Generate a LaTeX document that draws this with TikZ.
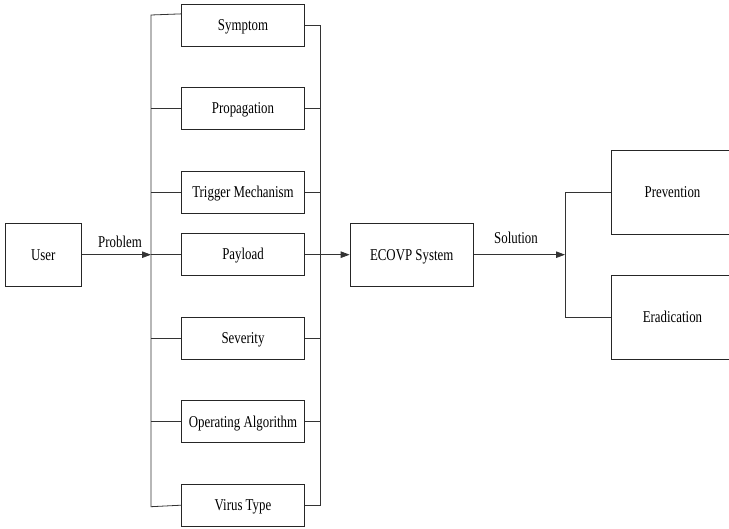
\documentclass[tikz,border=0pt]{standalone}
\usepackage{fontspec}
\setmainfont{Liberation Serif}[FakeStretch=0.78]
\usetikzlibrary{arrows.meta,calc}
\begin{document}
\begin{tikzpicture}[x=1pt,y=-1pt,
  line width=0.8pt, draw=black!85,
  box/.style={draw=black!85, line width=0.8pt, inner sep=0pt, minimum width=122.6pt, minimum height=42pt,
    text height=11pt, text depth=0pt, font=\fontsize{16.5}{18}\selectfont},
  bigbox/.style={box, minimum width=123.3pt, minimum height=62.7pt},
  rbox/.style={box, minimum width=123pt, minimum height=83.4pt},
  lbl/.style={inner sep=0pt, text height=11pt, text depth=0pt, font=\fontsize{16.5}{18}\selectfont},
  arr/.style={-{Triangle[length=9pt,width=6.5pt]}},
  conn/.style={draw=black!80, line width=0.8pt}]
\useasboundingbox (0,0) rectangle (729,529);
\clip (0,0) rectangle (729,529);
\node[box, minimum width=76.7pt, minimum height=62.7pt] (user) at (43.3,254.7) {User};
\node[box] (sym) at (243,25) {Symptom};
\node[box] (prop) at (243,108.5) {Propagation};
\node[box] (trig) at (243,192.5) {Trigger Mechanism};
\node[box] (pay) at (243,254.5) {Payload};
\node[box] (sev) at (243,338.3) {Severity};
\node[box] (opa) at (243,421.8) {Operating Algorithm};
\node[box] (vt) at (243,505.2) {Virus Type};
\node[bigbox] (eco) at (411.7,254.7) {ECOVP System};
\node[rbox] (prev) at (672.5,192.4) {Prevention};
\node[rbox] (erad) at (672.5,317.5) {Eradication};
% buses
\coordinate (lbt) at (151,15);
\coordinate (lbb) at (151,506.7);
\coordinate (rbt) at (320,25);
\coordinate (rbb) at (320,505.2);
\coordinate (lin) at (151,254.7);
\coordinate (rin) at (320,254.7);
\coordinate (sin) at (565,254.7);
\coordinate (st) at (565,192.4);
\coordinate (sb) at (565,317.5);
\coordinate (symw) at ($(sym.north west)!0.24!(sym.south west)$);
\draw[conn] (symw) -- (lbt) -- (lbb) -- (vt.west);
\draw[conn] (sym.east) -- (rbt) -- (rbb) -- (vt.east);
\foreach \n in {prop,trig,pay,sev,opa}{
  \draw[conn] (\n.west) -- (\n.west -| lbt);
  \draw[conn] (\n.east) -- (\n.east -| rbt);
}
\draw[conn,arr] (user.east) -- (lin);
\node[lbl] (prob) at (120,242) {Problem};
\draw[conn,arr] (rin) -- (eco.west);
\draw[conn,arr] (eco.east) -- (sin);
\node[lbl] (sol) at (516,238.5) {Solution};
\draw[conn] (prev.west) -- (st) -- (sb) -- (erad.west);
\end{tikzpicture}
\end{document}
